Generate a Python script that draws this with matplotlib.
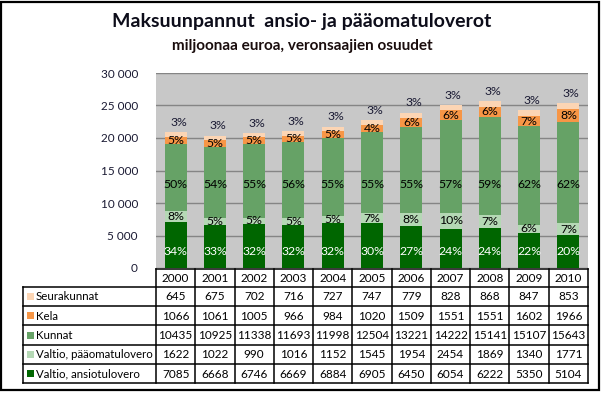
import matplotlib
matplotlib.use("Agg")
import matplotlib.pyplot as plt
from matplotlib.patches import Rectangle
import numpy as np

plt.rcParams['font.family'] = ['Lato', 'DejaVu Sans']

years = ['2000', '2001', '2002', '2003', '2004', '2005', '2006', '2007', '2008', '2009', '2010']
seurakunnat = [645, 675, 702, 716, 727, 747, 779, 828, 868, 847, 853]
kela = [1066, 1061, 1005, 966, 984, 1020, 1509, 1551, 1551, 1602, 1966]
kunnat = [10435, 10925, 11338, 11693, 11998, 12504, 13221, 14222, 15141, 15107, 15643]
valtio_paaoma = [1622, 1022, 990, 1016, 1152, 1545, 1954, 2454, 1869, 1340, 1771]
valtio_ansio = [7085, 6668, 6746, 6669, 6884, 6905, 6450, 6054, 6222, 5350, 5104]

names = ['Seurakunnat', 'Kela', 'Kunnat', 'Valtio, pääomatulovero', 'Valtio, ansiotulovero']
series = [seurakunnat, kela, kunnat, valtio_paaoma, valtio_ansio]
colors = ['#fcd5b4', '#f79646', '#66a266', '#b5d8b5', '#006600']
yticks = [0, 5000, 10000, 15000, 20000, 25000, 30000]

W, H = 604, 393
fig = plt.figure(figsize=(W / 100, H / 100), dpi=100)

# plot area (pixel layout)
left, right, top, bottom = 156, 588, 73, 268
ax = fig.add_axes([left / W, (H - bottom) / H, (right - left) / W, (bottom - top) / H])
ax.set_facecolor('#c8c8c8')
for s in ax.spines.values():
    s.set_visible(False)
ax.set_xlim(-0.5, len(years) - 0.5)
ax.set_ylim(0, 30000)
ax.set_xticks([])
ax.set_yticks(yticks)
ax.set_yticklabels([f"{v:,}".replace(',', ' ') for v in yticks], fontsize=8.5, color='#1a1a33')
ax.tick_params(axis='y', length=0, pad=13)
ax.yaxis.grid(True, color='#858585', lw=1)
ax.set_axisbelow(True)

x = np.arange(len(years))
data = np.array(series, dtype=float)
totals = data.sum(axis=0)
pct = np.round(100 * data / totals).astype(int)

# stack from bottom: ansio, paaoma, kunnat, kela, seurakunnat
base = np.zeros(len(years))
bottoms = {}
for k in range(len(series) - 1, -1, -1):
    ax.bar(x, data[k], 0.56, bottom=base, color=colors[k], lw=0)
    bottoms[k] = base.copy()
    base = base + data[k]

fs = 8.8
for i in range(len(years)):
    # valtio ansio
    ax.text(i, 2600, f"{pct[4][i]}%", ha='center', va='center', fontsize=fs, color='white')
    # valtio paaoma
    ax.text(i, bottoms[3][i] + data[3][i] / 2, f"{pct[3][i]}%", ha='center', va='center', fontsize=fs)
    # kunnat
    ax.text(i, 12900, f"{pct[2][i]}%", ha='center', va='center', fontsize=fs)
    # kela
    ax.text(i, bottoms[1][i] + data[1][i] / 2, f"{pct[1][i]}%", ha='center', va='center', fontsize=fs)
    # seurakunnat above bar
    ax.annotate(f"{pct[0][i]}%", (i, totals[i]), xytext=(2, 7), textcoords='offset points',
                ha='center', va='center', fontsize=fs, color='#1a1a33')

# overlay in pixel coordinates for titles, table and frame
ov = fig.add_axes([0, 0, 1, 1])
ov.set_xlim(0, W)
ov.set_ylim(H, 0)
ov.axis('off')

ov.add_patch(Rectangle((1, 2), 598, 388, fill=False, lw=1.6, ec='black'))
ov.text(302, 22, "Maksuunpannut  ansio- ja pääomatuloverot", ha='center', va='center',
        fontsize=14, fontweight='bold', color='#0d0d1a')
ov.text(302, 46, "miljoonaa euroa, veronsaajien osuudet", ha='center', va='center',
        fontsize=11, fontweight='bold', color='#1a0d0d')

colw = (right - left) / len(years)
rows = [269, 286.7, 306, 325.3, 344.7, 364, 383.3]
tab_left = 23
lc = 'black'
lw = 1.1
tfs = 8.5
lfs = 8.3
ov.plot([left, right], [rows[0], rows[0]], color=lc, lw=lw)
for r in rows[1:]:
    ov.plot([tab_left, right], [r, r], color=lc, lw=lw)
for j in range(len(years) + 1):
    ov.plot([left + j * colw] * 2, [rows[0], rows[-1]], color=lc, lw=lw)
ov.plot([tab_left, tab_left], [rows[1], rows[-1]], color=lc, lw=lw)

for j, yr in enumerate(years):
    ov.text(left + (j + 0.5) * colw, (rows[0] + rows[1]) / 2 + 0.5, yr, ha='center', va='center', fontsize=tfs)
for k, name in enumerate(names):
    yc = (rows[k + 1] + rows[k + 2]) / 2
    ov.add_patch(Rectangle((27, yc - 3.5), 7, 7, color=colors[k], lw=0))
    ov.text(36, yc + 0.5, name, ha='left', va='center', fontsize=lfs)
    for j in range(len(years)):
        ov.text(left + (j + 0.5) * colw, yc + 0.5, str(series[k][j]), ha='center', va='center', fontsize=tfs)

fig.savefig('out.png', dpi=100)
